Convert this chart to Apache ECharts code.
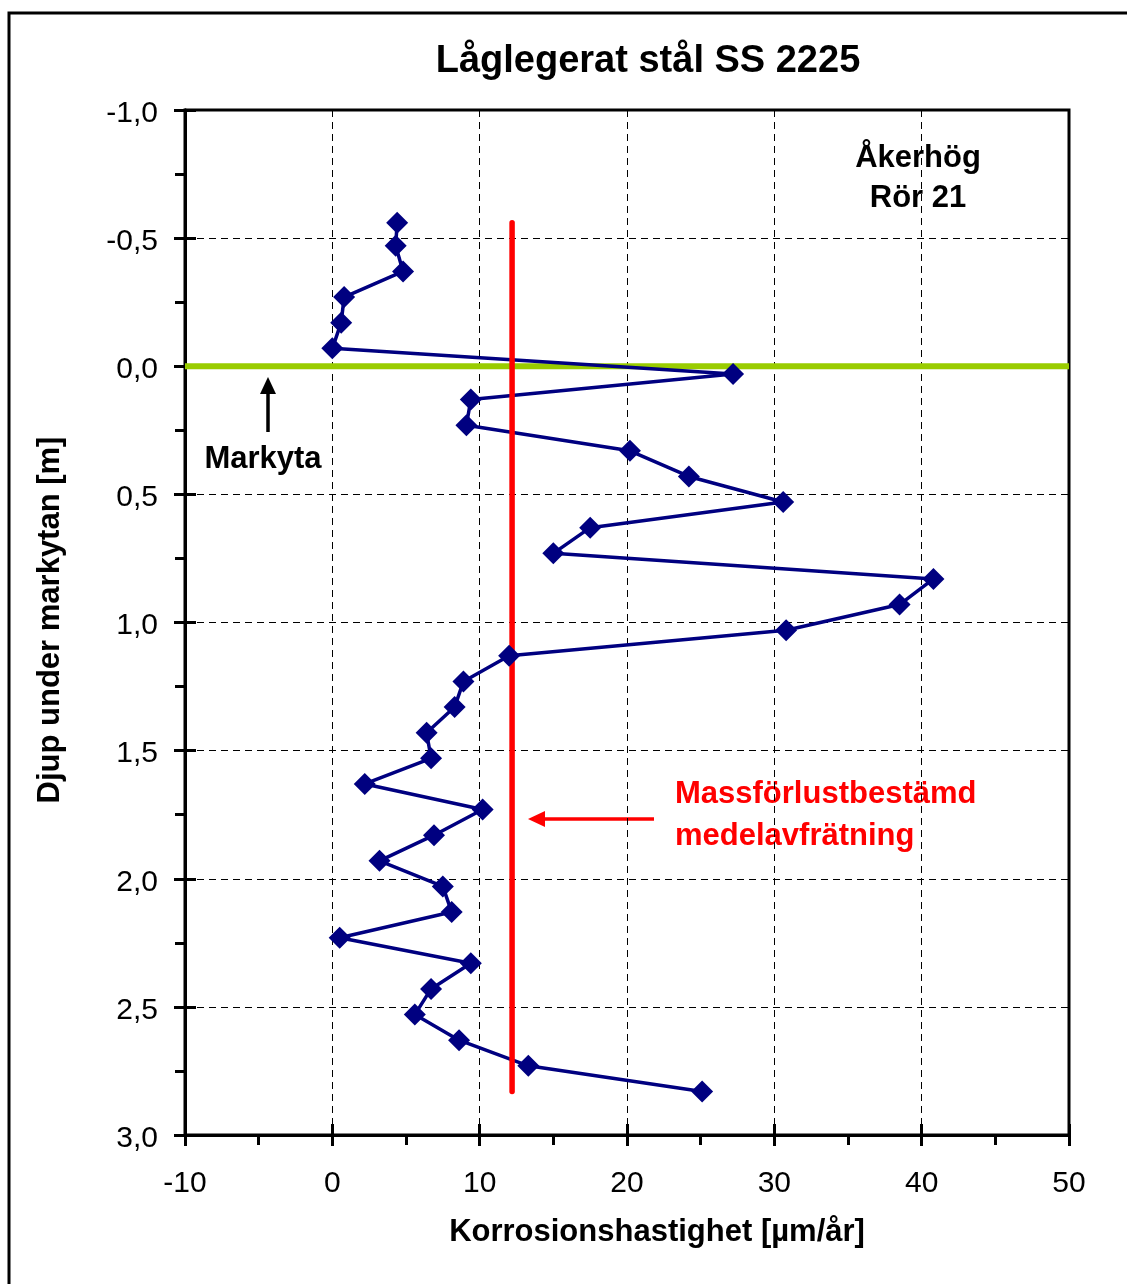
<!DOCTYPE html>
<html>
<head>
    <meta charset="utf-8"/>
    <title>Låglegerat stål SS 2225</title>
    <style>
        html, body { margin: 0; padding: 0; background: #fff; }
        #chart { width: 1127px; height: 1284px; }
    </style>
</head>
<body>
<div id="chart"></div>

<script type="text/javascript" src="https://cdn.jsdelivr.net/npm/echarts@6/dist/echarts.min.js"></script>
<script>
    // djup under markytan [m]
    var depth = [-0.56, -0.47, -0.37, -0.27, -0.17, -0.07, 0.03, 0.13, 0.23, 0.33,
        0.43, 0.53, 0.63, 0.73, 0.83, 0.93, 1.03, 1.13, 1.23, 1.33,
        1.43, 1.53, 1.63, 1.73, 1.83, 1.93, 2.03, 2.13, 2.23, 2.33,
        2.43, 2.53, 2.63, 2.73, 2.83];
    // korrosionshastighet [um/ar]
    var rate = [4.4, 4.3, 4.8, 0.8, 0.6, 0.0, 27.2, 9.4, 9.1, 20.2,
        24.2, 30.6, 17.5, 15.0, 40.8, 38.5, 30.8, 12.0, 8.9, 8.3,
        6.4, 6.7, 2.2, 10.2, 6.9, 3.2, 7.5, 8.1, 0.5, 9.4,
        6.7, 5.6, 8.6, 13.3, 25.1];
    // massforlustbestamd medelavfratning
    var meanRate = [12.2, 12.2];
    var meanDepth = [-0.56, 2.83];
    // markyta
    var groundRate = [-10, 50];
    var groundDepth = [0, 0];

    var xTicks = [-10, 50, 10];
    var yTicks = [-1, 3, 0.5];

    var FONT = '"Liberation Sans", Arial, sans-serif';

    var pts = rate.map(function (r, i) { return [r, depth[i]]; });
    var meanPts = meanRate.map(function (r, i) { return [r, meanDepth[i]]; });
    var groundPts = groundRate.map(function (r, i) { return [r, groundDepth[i]]; });

    var chart = echarts.init(document.getElementById('chart'));

    var dash = { color: '#000', width: 1, type: [7, 5] };
    var axisLine = { onZero: false, lineStyle: { color: '#000', width: 3 } };

    var option = {
        animation: false,
        backgroundColor: '#fff',
        grid: {
            left: 185, right: 58, top: 110, bottom: 149,
            show: true, borderColor: '#000', borderWidth: 3, backgroundColor: 'transparent'
        },
        xAxis: [{
            type: 'value',
            min: xTicks[0], max: xTicks[1], interval: xTicks[2],
            axisLine: axisLine,
            axisTick: { length: 11, lineStyle: { color: '#000', width: 3 } },
            minorTick: { show: true, splitNumber: 2, length: 10, lineStyle: { color: '#000', width: 3 } },
            axisLabel: { color: '#000', fontSize: 30, fontFamily: FONT, margin: 34 },
            splitLine: { lineStyle: dash }
        }, {
            // inre halvan av huvudstrecken
            type: 'value', position: 'bottom',
            min: xTicks[0], max: xTicks[1], interval: xTicks[2],
            axisLine: axisLine,
            axisTick: { inside: true, length: 11, lineStyle: { color: '#000', width: 3 } },
            axisLabel: { show: false },
            splitLine: { show: false }
        }],
        yAxis: [{
            type: 'value', inverse: true,
            min: yTicks[0], max: yTicks[1], interval: yTicks[2],
            axisLine: axisLine,
            axisTick: { length: 11, lineStyle: { color: '#000', width: 3 } },
            minorTick: { show: true, splitNumber: 2, length: 10, lineStyle: { color: '#000', width: 3 } },
            axisLabel: {
                color: '#000', fontSize: 30, fontFamily: FONT, margin: 27,
                formatter: function (v) { return '{t|' + v.toFixed(1).replace('.', ',') + '}'; },
                rich: { t: { fontSize: 30, fontFamily: FONT, color: '#000', padding: [7, 0, 0, 0] } }
            },
            splitLine: { lineStyle: dash }
        }, {
            type: 'value', inverse: true, position: 'left',
            min: yTicks[0], max: yTicks[1], interval: yTicks[2],
            axisLine: axisLine,
            axisTick: { inside: true, length: 11, lineStyle: { color: '#000', width: 3 } },
            axisLabel: { show: false },
            splitLine: { show: false }
        }],
        series: [{
            name: 'Markyta',
            type: 'line',
            data: groundPts,
            showSymbol: false,
            z: 1,
            lineStyle: { color: '#99cc00', width: 6 }
        }, {
            name: 'Korrosion',
            type: 'line',
            data: pts,
            showSymbol: false,
            z: 2,
            lineStyle: { color: '#000080', width: 3.5 }
        }, {
            name: 'Medelavfrätning',
            type: 'line',
            data: meanPts,
            showSymbol: false,
            z: 3,
            lineStyle: { color: '#ff0000', width: 5.5, cap: 'round' }
        }, {
            name: 'Punkter',
            type: 'scatter',
            data: pts,
            symbol: 'diamond',
            symbolSize: 22,
            z: 4,
            itemStyle: { color: '#000080', opacity: 1 }
        }],
        graphic: [
            // ram runt hela diagrammet
            { type: 'rect', shape: { x: 9, y: 13, width: 1300, height: 1400 },
                style: { fill: 'none', stroke: '#000', lineWidth: 3 }, z: 0 },
            { type: 'text', x: 648, y: 62,
                style: { text: 'Låglegerat stål SS 2225', font: 'bold 38px ' + FONT, fill: '#000', align: 'center', verticalAlign: 'middle' } },
            { type: 'text', x: 657, y: 1232,
                style: { text: 'Korrosionshastighet [µm/år]', font: 'bold 31px ' + FONT, fill: '#000', align: 'center', verticalAlign: 'middle' } },
            { type: 'text', x: 50, y: 620, rotation: Math.PI / 2,
                style: { text: 'Djup under markytan [m]', font: 'bold 31px ' + FONT, fill: '#000', align: 'center', verticalAlign: 'middle' } },
            { type: 'text', x: 918, y: 158,
                style: { text: 'Åkerhög', font: 'bold 31px ' + FONT, fill: '#000', align: 'center', verticalAlign: 'middle' } },
            { type: 'text', x: 918, y: 198,
                style: { text: 'Rör 21', font: 'bold 31px ' + FONT, fill: '#000', align: 'center', verticalAlign: 'middle' } },
            { type: 'text', x: 263, y: 459,
                style: { text: 'Markyta', font: 'bold 31px ' + FONT, fill: '#000', align: 'center', verticalAlign: 'middle' } },
            // pil mot markytan
            { type: 'line', shape: { x1: 268, y1: 432, x2: 268, y2: 392 },
                style: { stroke: '#000', lineWidth: 3.5 } },
            { type: 'polygon', shape: { points: [[268, 377], [260, 394], [276, 394]] },
                style: { fill: '#000' } },
            { type: 'text', x: 675, y: 794,
                style: { text: 'Massförlustbestämd', font: 'bold 31px ' + FONT, fill: '#ff0000', align: 'left', verticalAlign: 'middle' } },
            { type: 'text', x: 675, y: 836,
                style: { text: 'medelavfrätning', font: 'bold 31px ' + FONT, fill: '#ff0000', align: 'left', verticalAlign: 'middle' } },
            // röd pil mot medellinjen
            { type: 'line', shape: { x1: 654, y1: 819, x2: 542, y2: 819 },
                style: { stroke: '#ff0000', lineWidth: 3.5 } },
            { type: 'polygon', shape: { points: [[528, 819], [545, 811], [545, 827]] },
                style: { fill: '#ff0000' } }
        ]
    };
    chart.setOption(option);

    window.onresize = function () {
        chart.resize();
    };
</script>
</body>
</html>
